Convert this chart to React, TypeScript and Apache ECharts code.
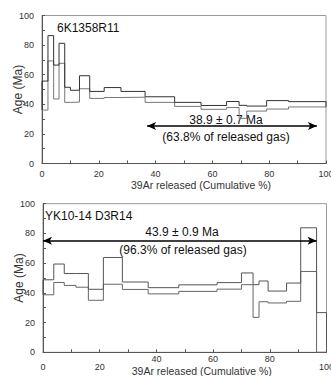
import React, { useEffect, useRef } from "react";
import * as echarts from "echarts";

// ---- Data ----
// Top panel: 6K1358R11 — step boundaries (cumulative 39Ar %) and age ± error envelope (Ma)
const topBounds = [0, 2.1, 4.1, 6.0, 8.0, 10, 13.2, 16.8, 21.9, 27.8, 36.3, 46.7, 56, 65, 69.4, 72.1, 79.1, 86.8, 100];
const topUpper = [55.7, 86.4, 66.5, 81.2, 51.5, 49.5, 59.3, 48.7, 51.3, 48.7, 45.1, 41.3, 39.2, 41.9, 39.3, 38.8, 42.5, 41.8];
const topLower = [36.1, 69.3, 43.6, 67.7, 41.3, 41.5, 50.5, 44.0, 44.6, 44.8, 41.3, 38.6, 36.6, 37.8, 30.5, 35.4, 36.8, 38.2];
const topPlateauRange = [37, 96.8];
const topPlateauAge = 25.3; // vertical position of the arrow (Ma)
const topName = "6K1358R11";
const topAgeText = "38.9 ± 0.7 Ma";
const topGasText = "(63.8% of released gas)";

// Bottom panel: YK10-14 D3R14
const botBounds = [0, 3.8, 7.5, 11.6, 16, 21.3, 28, 37.1, 47.9, 61.4, 70, 74.1, 76.2, 79.4, 85.9, 90.9, 96.5, 100];
const botUpper = [48.8, 59.4, 53.0, 53.0, 42.4, 63.8, 47.3, 43.5, 45.4, 46.9, 53.4, 45.5, 48.0, 41.2, 46.6, 83.8, 26.7];
const botLower = [38.7, 47.0, 45.0, 43.8, 35.0, 45.8, 42.3, 39.3, 41.0, 42.5, 45.5, 23.5, 34.0, 33.2, 34.3, 54.4, 0];
const botPlateauRange = [0, 96.5];
const botPlateauAge = 75.1;
const botName = "YK10-14 D3R14";
const botAgeText = "43.9 ± 0.9 Ma";
const botGasText = "(96.3% of released gas)";

const xTicks = [0, 20, 40, 60, 80, 100];
const xRaised = [40, 60, 80]; // bottom-panel labels sitting closer to the axis
const xName = "39Ar released (Cumulative %)";
const yName = "Age (Ma)";

const FONT = "'Liberation Sans', Arial, sans-serif";
const LABEL = { fontSize: 9, color: "#333", fontFamily: FONT };

function stepData(bounds: number[], vals: number[]) {
  const d: number[][] = vals.map((v, i) => [bounds[i], v]);
  d.push([bounds[bounds.length - 1], vals[vals.length - 1]]);
  return d;
}

function baseX(gridIndex: number) {
  return {
    gridIndex,
    type: "value",
    min: xTicks[0],
    max: xTicks[xTicks.length - 1],
    interval: 20,
    splitLine: { show: false },
  };
}

function makeXAxis(gridIndex: number, bottom: boolean) {
  return {
    ...baseX(gridIndex),
    axisLine: { lineStyle: { color: "#555", width: 1 } },
    axisTick: { inside: true, length: 3, lineStyle: { color: "#555" } },
    minorTick: { show: true, splitNumber: 2, length: 3, lineStyle: { color: "#555" } },
    axisLabel: bottom
      ? { ...LABEL, margin: 2, formatter: (v: number) => (xRaised.includes(v) ? String(v) : "") }
      : { ...LABEL, margin: 6 },
    name: xName,
    nameLocation: "middle",
    nameGap: bottom ? 13.5 : 16,
    nameMoveOverlap: false,
    nameTextStyle: { fontSize: 10.5, color: "#333", fontFamily: FONT, padding: [0, 0, 0, 34] },
  };
}

// second axis on the bottom grid, carrying the lower-placed labels only
function makeXAxisLow(gridIndex: number) {
  return {
    ...baseX(gridIndex),
    position: "bottom",
    axisLine: { show: false },
    axisTick: { show: false },
    axisLabel: { ...LABEL, margin: 10, formatter: (v: number) => (xRaised.includes(v) ? "" : String(v)) },
  };
}

function makeYAxis(gridIndex: number) {
  return {
    gridIndex,
    type: "value",
    min: 0,
    max: 100,
    interval: 20,
    splitLine: { show: false },
    axisLine: { show: true, lineStyle: { color: "#555", width: 1 } },
    axisTick: { show: true, inside: true, length: 3, lineStyle: { color: "#555" } },
    minorTick: { show: true, splitNumber: 2, length: 3, lineStyle: { color: "#555" } },
    axisLabel: { ...LABEL, margin: 8 },
    name: yName,
    nameLocation: "middle",
    nameGap: 18,
    nameMoveOverlap: false,
    nameTextStyle: { fontSize: 12, color: "#333", fontFamily: FONT },
  };
}

function panelSeries(
  idx: number,
  bounds: number[],
  upper: number[],
  lower: number[],
  plateau: number[],
  plateauAge: number,
  upColor: string,
  lowColor: string
) {
  const base = {
    type: "line",
    xAxisIndex: idx,
    yAxisIndex: idx,
    showSymbol: false,
    symbol: "none",
    silent: true,
  };
  const n = upper.length;
  const last = bounds[bounds.length - 1];
  return [
    { ...base, step: "end", data: stepData(bounds, lower), lineStyle: { color: lowColor, width: 1 } },
    { ...base, step: "end", data: stepData(bounds, upper), lineStyle: { color: upColor, width: 1 } },
    {
      ...base,
      data: [
        [bounds[0], lower[0]],
        [bounds[0], upper[0]],
      ],
      lineStyle: { color: upColor, width: 1 },
    },
    {
      ...base,
      data: [
        [last, lower[n - 1]],
        [last, upper[n - 1]],
      ],
      lineStyle: { color: upColor, width: 1 },
      markLine: {
        silent: true,
        symbol: ["arrow", "arrow"],
        symbolSize: [6, 9],
        label: { show: false },
        lineStyle: { color: "#000", width: 1.5, type: "solid" },
        data: [[{ coord: [plateau[0], plateauAge] }, { coord: [plateau[1], plateauAge] }]],
      },
    },
  ];
}

function txt(text: string, x: number, y: number, align: string, size = 12) {
  return {
    type: "text",
    x,
    y,
    silent: true,
    style: {
      text,
      fill: "#111",
      font: `${size}px ${FONT}`,
      textAlign: align,
      textVerticalAlign: "middle",
    },
  };
}

export default function App() {
  const ref = useRef<HTMLDivElement>(null);

  useEffect(() => {
    if (!ref.current) return;
    const chart = echarts.init(ref.current, undefined, { renderer: "svg" });
    const option = {
      animation: false,
      backgroundColor: "#fff",
      grid: [
        {
          left: 42, right: 5, top: 15.5, height: 148, show: true, borderColor: "#999", borderWidth: 1,
          outerBoundsMode: "none", containLabel: false,
        },
        {
          left: 43, right: 4.5, top: 203.7, height: 148.6, show: true, borderColor: "#999", borderWidth: 1,
          outerBoundsMode: "none", containLabel: false,
        },
      ],
      xAxis: [makeXAxis(0, false), makeXAxis(1, true), makeXAxisLow(1)],
      yAxis: [makeYAxis(0), makeYAxis(1)],
      series: [
        ...panelSeries(0, topBounds, topUpper, topLower, topPlateauRange, topPlateauAge, "#333", "#777"),
        ...panelSeries(1, botBounds, botUpper, botLower, botPlateauRange, botPlateauAge, "#555", "#666"),
      ],
      graphic: [
        txt(topName, 57, 27.5, "left"),
        txt(topAgeText, 226, 120, "center"),
        txt(topGasText, 226, 136.5, "center"),
        txt(botName, 45, 216, "left"),
        txt(botAgeText, 182, 232, "center"),
        txt(botGasText, 183, 249.5, "center"),
      ],
    };
    chart.setOption(option as any);
    return () => chart.dispose();
  }, []);

  return (
    <div
      ref={ref}
      style={{ position: "fixed", left: 0, top: 0, width: 331, height: 376, background: "#fff" }}
    />
  );
}
